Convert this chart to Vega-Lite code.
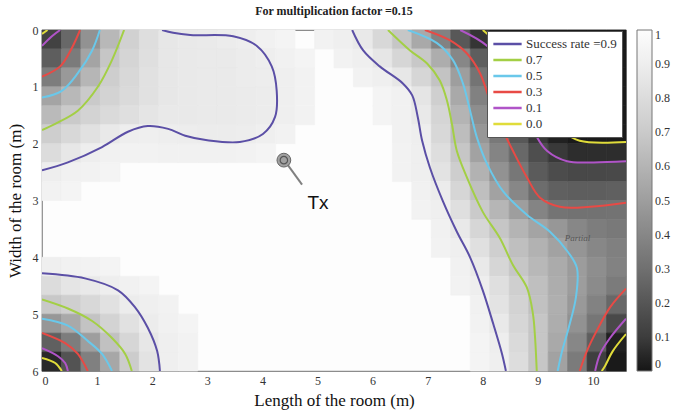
{
  "$schema": "https://vega.github.io/schema/vega-lite/v6.json",
  "width": 584,
  "height": 341,
  "autosize": "none",
  "padding": {"left": 42, "top": 30, "right": 62, "bottom": 43},
  "background": "white",
  "title": {"text": "For multiplication factor =0.15", "font": "Liberation Serif", "fontSize": 12, "fontWeight": "bold", "color": "#222", "anchor": "middle", "offset": 6},
  "config": {
    "font": "Liberation Serif",
    "view": {"stroke": "#8c8c8c", "strokeWidth": 1.2, "fill": "#fdfdfd"},
    "axis": {"labelFont": "Liberation Serif", "labelFontSize": 12, "labelColor": "#333", "titleFont": "Liberation Serif", "titleFontSize": 17, "titleFontWeight": "normal", "titleColor": "#111", "grid": false, "domain": false, "ticks": false, "labelPadding": 4}
  },
  "datasets": {
    "cells": [
      {"c":0,"r":0,"v":0.12},{"c":1,"r":0,"v":0.27},{"c":2,"r":0,"v":0.45},{"c":3,"r":0,"v":0.62},{"c":4,"r":0,"v":0.74},{"c":5,"r":0,"v":0.81},{"c":6,"r":0,"v":0.86},{"c":7,"r":0,"v":0.87},{"c":8,"r":0,"v":0.88},{"c":9,"r":0,"v":0.89},{"c":10,"r":0,"v":0.9},{"c":11,"r":0,"v":0.92},{"c":12,"r":0,"v":0.94},{"c":14,"r":0,"v":0.93},{"c":15,"r":0,"v":0.91},{"c":16,"r":0,"v":0.87},{"c":17,"r":0,"v":0.78},{"c":18,"r":0,"v":0.68},{"c":19,"r":0,"v":0.55},{"c":20,"r":0,"v":0.38},{"c":21,"r":0,"v":0.21},{"c":22,"r":0,"v":0.08},{"c":23,"r":0,"v":0.02},{"c":24,"r":0,"v":0.01},{"c":25,"r":0,"v":0.01},{"c":26,"r":0,"v":0.01},{"c":27,"r":0,"v":0.01},{"c":28,"r":0,"v":0.01},{"c":29,"r":0,"v":0.01},
      {"c":0,"r":1,"v":0.23},{"c":1,"r":1,"v":0.35},{"c":2,"r":1,"v":0.53},{"c":3,"r":1,"v":0.68},{"c":4,"r":1,"v":0.76},{"c":5,"r":1,"v":0.82},{"c":6,"r":1,"v":0.86},{"c":7,"r":1,"v":0.87},{"c":8,"r":1,"v":0.88},{"c":9,"r":1,"v":0.88},{"c":10,"r":1,"v":0.89},{"c":11,"r":1,"v":0.9},{"c":12,"r":1,"v":0.92},{"c":13,"r":1,"v":0.94},{"c":15,"r":1,"v":0.93},{"c":16,"r":1,"v":0.91},{"c":17,"r":1,"v":0.855},{"c":18,"r":1,"v":0.77},{"c":19,"r":1,"v":0.69},{"c":20,"r":1,"v":0.57},{"c":21,"r":1,"v":0.4},{"c":22,"r":1,"v":0.23},{"c":23,"r":1,"v":0.09},{"c":24,"r":1,"v":0.02},{"c":25,"r":1,"v":0.01},{"c":26,"r":1,"v":0.01},{"c":27,"r":1,"v":0.01},{"c":28,"r":1,"v":0.01},{"c":29,"r":1,"v":0.01},
      {"c":0,"r":2,"v":0.36},{"c":1,"r":2,"v":0.48},{"c":2,"r":2,"v":0.61},{"c":3,"r":2,"v":0.72},{"c":4,"r":2,"v":0.78},{"c":5,"r":2,"v":0.83},{"c":6,"r":2,"v":0.86},{"c":7,"r":2,"v":0.87},{"c":8,"r":2,"v":0.88},{"c":9,"r":2,"v":0.88},{"c":10,"r":2,"v":0.89},{"c":11,"r":2,"v":0.895},{"c":12,"r":2,"v":0.91},{"c":13,"r":2,"v":0.93},{"c":16,"r":2,"v":0.93},{"c":17,"r":2,"v":0.91},{"c":18,"r":2,"v":0.86},{"c":19,"r":2,"v":0.77},{"c":20,"r":2,"v":0.67},{"c":21,"r":2,"v":0.5},{"c":22,"r":2,"v":0.32},{"c":23,"r":2,"v":0.18},{"c":24,"r":2,"v":0.05},{"c":25,"r":2,"v":0.01},{"c":26,"r":2,"v":0.01},{"c":27,"r":2,"v":0.01},{"c":28,"r":2,"v":0.01},{"c":29,"r":2,"v":0.01},
      {"c":0,"r":3,"v":0.53},{"c":1,"r":3,"v":0.62},{"c":2,"r":3,"v":0.7},{"c":3,"r":3,"v":0.75},{"c":4,"r":3,"v":0.79},{"c":5,"r":3,"v":0.83},{"c":6,"r":3,"v":0.86},{"c":7,"r":3,"v":0.87},{"c":8,"r":3,"v":0.88},{"c":9,"r":3,"v":0.88},{"c":10,"r":3,"v":0.885},{"c":11,"r":3,"v":0.89},{"c":12,"r":3,"v":0.91},{"c":13,"r":3,"v":0.93},{"c":17,"r":3,"v":0.94},{"c":18,"r":3,"v":0.92},{"c":19,"r":3,"v":0.85},{"c":20,"r":3,"v":0.73},{"c":21,"r":3,"v":0.55},{"c":22,"r":3,"v":0.375},{"c":23,"r":3,"v":0.23},{"c":24,"r":3,"v":0.1},{"c":25,"r":3,"v":0.02},{"c":26,"r":3,"v":0.01},{"c":27,"r":3,"v":0.01},{"c":28,"r":3,"v":0.01},{"c":29,"r":3,"v":0.01},
      {"c":0,"r":4,"v":0.63},{"c":1,"r":4,"v":0.7},{"c":2,"r":4,"v":0.75},{"c":3,"r":4,"v":0.79},{"c":4,"r":4,"v":0.82},{"c":5,"r":4,"v":0.85},{"c":6,"r":4,"v":0.87},{"c":7,"r":4,"v":0.875},{"c":8,"r":4,"v":0.88},{"c":9,"r":4,"v":0.88},{"c":10,"r":4,"v":0.885},{"c":11,"r":4,"v":0.89},{"c":12,"r":4,"v":0.91},{"c":13,"r":4,"v":0.93},{"c":17,"r":4,"v":0.94},{"c":18,"r":4,"v":0.92},{"c":19,"r":4,"v":0.87},{"c":20,"r":4,"v":0.76},{"c":21,"r":4,"v":0.6},{"c":22,"r":4,"v":0.43},{"c":23,"r":4,"v":0.28},{"c":24,"r":4,"v":0.155},{"c":25,"r":4,"v":0.06},{"c":26,"r":4,"v":0.01},{"c":27,"r":4,"v":0.01},{"c":28,"r":4,"v":0.01},{"c":29,"r":4,"v":0.01},
      {"c":0,"r":5,"v":0.72},{"c":1,"r":5,"v":0.78},{"c":2,"r":5,"v":0.83},{"c":3,"r":5,"v":0.87},{"c":4,"r":5,"v":0.9},{"c":5,"r":5,"v":0.91},{"c":6,"r":5,"v":0.9},{"c":7,"r":5,"v":0.895},{"c":8,"r":5,"v":0.89},{"c":9,"r":5,"v":0.89},{"c":10,"r":5,"v":0.895},{"c":11,"r":5,"v":0.91},{"c":12,"r":5,"v":0.93},{"c":18,"r":5,"v":0.92},{"c":19,"r":5,"v":0.9},{"c":20,"r":5,"v":0.78},{"c":21,"r":5,"v":0.64},{"c":22,"r":5,"v":0.47},{"c":23,"r":5,"v":0.34},{"c":24,"r":5,"v":0.21},{"c":25,"r":5,"v":0.09},{"c":26,"r":5,"v":0.03},{"c":27,"r":5,"v":0.01},{"c":28,"r":5,"v":0.01},{"c":29,"r":5,"v":0.01},
      {"c":0,"r":6,"v":0.8},{"c":1,"r":6,"v":0.86},{"c":2,"r":6,"v":0.9},{"c":3,"r":6,"v":0.92},{"c":4,"r":6,"v":0.93},{"c":5,"r":6,"v":0.93},{"c":6,"r":6,"v":0.92},{"c":7,"r":6,"v":0.92},{"c":8,"r":6,"v":0.92},{"c":9,"r":6,"v":0.92},{"c":10,"r":6,"v":0.93},{"c":11,"r":6,"v":0.94},{"c":18,"r":6,"v":0.93},{"c":19,"r":6,"v":0.91},{"c":20,"r":6,"v":0.81},{"c":21,"r":6,"v":0.68},{"c":22,"r":6,"v":0.52},{"c":23,"r":6,"v":0.39},{"c":24,"r":6,"v":0.27},{"c":25,"r":6,"v":0.17},{"c":26,"r":6,"v":0.09},{"c":27,"r":6,"v":0.06},{"c":28,"r":6,"v":0.06},{"c":29,"r":6,"v":0.06},
      {"c":0,"r":7,"v":0.9},{"c":1,"r":7,"v":0.92},{"c":2,"r":7,"v":0.93},{"c":3,"r":7,"v":0.94},{"c":18,"r":7,"v":0.93},{"c":19,"r":7,"v":0.91},{"c":20,"r":7,"v":0.84},{"c":21,"r":7,"v":0.72},{"c":22,"r":7,"v":0.59},{"c":23,"r":7,"v":0.45},{"c":24,"r":7,"v":0.33},{"c":25,"r":7,"v":0.22},{"c":26,"r":7,"v":0.16},{"c":27,"r":7,"v":0.145},{"c":28,"r":7,"v":0.145},{"c":29,"r":7,"v":0.15},
      {"c":0,"r":8,"v":0.93},{"c":1,"r":8,"v":0.94},{"c":19,"r":8,"v":0.92},{"c":20,"r":8,"v":0.89},{"c":21,"r":8,"v":0.77},{"c":22,"r":8,"v":0.65},{"c":23,"r":8,"v":0.52},{"c":24,"r":8,"v":0.4},{"c":25,"r":8,"v":0.29},{"c":26,"r":8,"v":0.24},{"c":27,"r":8,"v":0.23},{"c":28,"r":8,"v":0.23},{"c":29,"r":8,"v":0.24},
      {"c":19,"r":9,"v":0.93},{"c":20,"r":9,"v":0.91},{"c":21,"r":9,"v":0.82},{"c":22,"r":9,"v":0.7},{"c":23,"r":9,"v":0.61},{"c":24,"r":9,"v":0.5},{"c":25,"r":9,"v":0.39},{"c":26,"r":9,"v":0.32},{"c":27,"r":9,"v":0.31},{"c":28,"r":9,"v":0.31},{"c":29,"r":9,"v":0.315},
      {"c":20,"r":10,"v":0.92},{"c":21,"r":10,"v":0.87},{"c":22,"r":10,"v":0.77},{"c":23,"r":10,"v":0.68},{"c":24,"r":10,"v":0.6},{"c":25,"r":10,"v":0.53},{"c":26,"r":10,"v":0.47},{"c":27,"r":10,"v":0.4},{"c":28,"r":10,"v":0.36},{"c":29,"r":10,"v":0.34},
      {"c":20,"r":11,"v":0.93},{"c":21,"r":11,"v":0.91},{"c":22,"r":11,"v":0.825},{"c":23,"r":11,"v":0.73},{"c":24,"r":11,"v":0.65},{"c":25,"r":11,"v":0.59},{"c":26,"r":11,"v":0.52},{"c":27,"r":11,"v":0.46},{"c":28,"r":11,"v":0.4},{"c":29,"r":11,"v":0.37},
      {"c":0,"r":12,"v":0.91},{"c":1,"r":12,"v":0.92},{"c":2,"r":12,"v":0.93},{"c":3,"r":12,"v":0.94},{"c":21,"r":12,"v":0.92},{"c":22,"r":12,"v":0.87},{"c":23,"r":12,"v":0.77},{"c":24,"r":12,"v":0.68},{"c":25,"r":12,"v":0.62},{"c":26,"r":12,"v":0.56},{"c":27,"r":12,"v":0.49},{"c":28,"r":12,"v":0.43},{"c":29,"r":12,"v":0.38},
      {"c":0,"r":13,"v":0.8},{"c":1,"r":13,"v":0.85},{"c":2,"r":13,"v":0.87},{"c":3,"r":13,"v":0.9},{"c":4,"r":13,"v":0.92},{"c":5,"r":13,"v":0.94},{"c":21,"r":13,"v":0.93},{"c":22,"r":13,"v":0.9},{"c":23,"r":13,"v":0.82},{"c":24,"r":13,"v":0.73},{"c":25,"r":13,"v":0.65},{"c":26,"r":13,"v":0.57},{"c":27,"r":13,"v":0.495},{"c":28,"r":13,"v":0.42},{"c":29,"r":13,"v":0.35},
      {"c":0,"r":14,"v":0.69},{"c":1,"r":14,"v":0.73},{"c":2,"r":14,"v":0.78},{"c":3,"r":14,"v":0.83},{"c":4,"r":14,"v":0.89},{"c":5,"r":14,"v":0.91},{"c":6,"r":14,"v":0.93},{"c":22,"r":14,"v":0.92},{"c":23,"r":14,"v":0.84},{"c":24,"r":14,"v":0.75},{"c":25,"r":14,"v":0.66},{"c":26,"r":14,"v":0.58},{"c":27,"r":14,"v":0.48},{"c":28,"r":14,"v":0.38},{"c":29,"r":14,"v":0.27},
      {"c":0,"r":15,"v":0.47},{"c":1,"r":15,"v":0.55},{"c":2,"r":15,"v":0.67},{"c":3,"r":15,"v":0.75},{"c":4,"r":15,"v":0.83},{"c":5,"r":15,"v":0.89},{"c":6,"r":15,"v":0.92},{"c":7,"r":15,"v":0.94},{"c":22,"r":15,"v":0.93},{"c":23,"r":15,"v":0.87},{"c":24,"r":15,"v":0.77},{"c":25,"r":15,"v":0.68},{"c":26,"r":15,"v":0.57},{"c":27,"r":15,"v":0.45},{"c":28,"r":15,"v":0.325},{"c":29,"r":15,"v":0.15},
      {"c":0,"r":16,"v":0.24},{"c":1,"r":16,"v":0.36},{"c":2,"r":16,"v":0.5},{"c":3,"r":16,"v":0.66},{"c":4,"r":16,"v":0.77},{"c":5,"r":16,"v":0.86},{"c":6,"r":16,"v":0.91},{"c":7,"r":16,"v":0.93},{"c":22,"r":16,"v":0.94},{"c":23,"r":16,"v":0.9},{"c":24,"r":16,"v":0.79},{"c":25,"r":16,"v":0.68},{"c":26,"r":16,"v":0.55},{"c":27,"r":16,"v":0.4},{"c":28,"r":16,"v":0.23},{"c":29,"r":16,"v":0.03},
      {"c":0,"r":17,"v":0.05},{"c":1,"r":17,"v":0.19},{"c":2,"r":17,"v":0.37},{"c":3,"r":17,"v":0.54},{"c":4,"r":17,"v":0.71},{"c":5,"r":17,"v":0.84},{"c":6,"r":17,"v":0.91},{"c":7,"r":17,"v":0.93},{"c":22,"r":17,"v":0.94},{"c":23,"r":17,"v":0.91},{"c":24,"r":17,"v":0.805},{"c":25,"r":17,"v":0.68},{"c":26,"r":17,"v":0.52},{"c":27,"r":17,"v":0.35},{"c":28,"r":17,"v":0.11},{"c":29,"r":17,"v":0.01}
    ],
    "contours": [
      {"lv":"0.9","s":"9a","x":0,"y":2.47},{"lv":"0.9","s":"9a","x":0.47,"y":2.33},{"lv":"0.9","s":"9a","x":1.09,"y":2.06},{"lv":"0.9","s":"9a","x":1.56,"y":1.79},{"lv":"0.9","s":"9a","x":1.92,"y":1.69},{"lv":"0.9","s":"9a","x":2.29,"y":1.74},{"lv":"0.9","s":"9a","x":2.6,"y":1.86},{"lv":"0.9","s":"9a","x":3.0,"y":1.94},{"lv":"0.9","s":"9a","x":3.59,"y":1.97},{"lv":"0.9","s":"9a","x":4.01,"y":1.83},{"lv":"0.9","s":"9a","x":4.23,"y":1.53},{"lv":"0.9","s":"9a","x":4.26,"y":1.07},{"lv":"0.9","s":"9a","x":4.17,"y":0.64},{"lv":"0.9","s":"9a","x":3.9,"y":0.28},{"lv":"0.9","s":"9a","x":3.47,"y":0.11},{"lv":"0.9","s":"9a","x":2.69,"y":0.09},{"lv":"0.9","s":"9a","x":2.38,"y":0.05},{"lv":"0.9","s":"9a","x":2.18,"y":0},
      {"lv":"0.9","s":"9b","x":0,"y":4.28},{"lv":"0.9","s":"9b","x":0.78,"y":4.37},{"lv":"0.9","s":"9b","x":1.38,"y":4.58},{"lv":"0.9","s":"9b","x":1.69,"y":4.88},{"lv":"0.9","s":"9b","x":1.92,"y":5.24},{"lv":"0.9","s":"9b","x":2.09,"y":5.65},{"lv":"0.9","s":"9b","x":2.14,"y":6},
      {"lv":"0.9","s":"9c","x":5.63,"y":0},{"lv":"0.9","s":"9c","x":5.83,"y":0.36},{"lv":"0.9","s":"9c","x":6.13,"y":0.64},{"lv":"0.9","s":"9c","x":6.55,"y":0.94},{"lv":"0.9","s":"9c","x":6.72,"y":1.15},{"lv":"0.9","s":"9c","x":6.82,"y":1.53},{"lv":"0.9","s":"9c","x":6.9,"y":1.95},{"lv":"0.9","s":"9c","x":7.04,"y":2.42},{"lv":"0.9","s":"9c","x":7.28,"y":3.02},{"lv":"0.9","s":"9c","x":7.53,"y":3.55},{"lv":"0.9","s":"9c","x":7.77,"y":4.0},{"lv":"0.9","s":"9c","x":8.0,"y":4.58},{"lv":"0.9","s":"9c","x":8.19,"y":5.17},{"lv":"0.9","s":"9c","x":8.35,"y":5.7},{"lv":"0.9","s":"9c","x":8.42,"y":6},
      {"lv":"0.7","s":"7a","x":1.49,"y":0},{"lv":"0.7","s":"7a","x":1.27,"y":0.53},{"lv":"0.7","s":"7a","x":1.02,"y":0.99},{"lv":"0.7","s":"7a","x":0.65,"y":1.42},{"lv":"0.7","s":"7a","x":0.24,"y":1.65},{"lv":"0.7","s":"7a","x":0,"y":1.76},
      {"lv":"0.7","s":"7b","x":0,"y":4.74},{"lv":"0.7","s":"7b","x":0.47,"y":4.9},{"lv":"0.7","s":"7b","x":0.91,"y":5.12},{"lv":"0.7","s":"7b","x":1.27,"y":5.42},{"lv":"0.7","s":"7b","x":1.51,"y":5.7},{"lv":"0.7","s":"7b","x":1.63,"y":6},
      {"lv":"0.7","s":"7c","x":6.28,"y":0},{"lv":"0.7","s":"7c","x":6.68,"y":0.36},{"lv":"0.7","s":"7c","x":6.99,"y":0.59},{"lv":"0.7","s":"7c","x":7.22,"y":0.89},{"lv":"0.7","s":"7c","x":7.35,"y":1.24},{"lv":"0.7","s":"7c","x":7.44,"y":1.65},{"lv":"0.7","s":"7c","x":7.53,"y":2.13},{"lv":"0.7","s":"7c","x":7.71,"y":2.59},{"lv":"0.7","s":"7c","x":8.0,"y":3.2},{"lv":"0.7","s":"7c","x":8.31,"y":3.66},{"lv":"0.7","s":"7c","x":8.55,"y":4.14},{"lv":"0.7","s":"7c","x":8.8,"y":4.53},{"lv":"0.7","s":"7c","x":8.91,"y":4.99},{"lv":"0.7","s":"7c","x":8.95,"y":5.42},{"lv":"0.7","s":"7c","x":8.98,"y":6},
      {"lv":"0.5","s":"5a","x":1.05,"y":0},{"lv":"0.5","s":"5a","x":0.91,"y":0.36},{"lv":"0.5","s":"5a","x":0.65,"y":0.76},{"lv":"0.5","s":"5a","x":0.36,"y":1.07},{"lv":"0.5","s":"5a","x":0,"y":1.19},
      {"lv":"0.5","s":"5b","x":0,"y":5.08},{"lv":"0.5","s":"5b","x":0.47,"y":5.2},{"lv":"0.5","s":"5b","x":0.83,"y":5.47},{"lv":"0.5","s":"5b","x":1.09,"y":5.7},{"lv":"0.5","s":"5b","x":1.27,"y":6},
      {"lv":"0.5","s":"5c","x":6.64,"y":0},{"lv":"0.5","s":"5c","x":7.17,"y":0.23},{"lv":"0.5","s":"5c","x":7.46,"y":0.53},{"lv":"0.5","s":"5c","x":7.64,"y":0.94},{"lv":"0.5","s":"5c","x":7.77,"y":1.42},{"lv":"0.5","s":"5c","x":7.89,"y":1.88},{"lv":"0.5","s":"5c","x":8.08,"y":2.36},{"lv":"0.5","s":"5c","x":8.37,"y":2.84},{"lv":"0.5","s":"5c","x":8.8,"y":3.25},{"lv":"0.5","s":"5c","x":9.22,"y":3.55},{"lv":"0.5","s":"5c","x":9.55,"y":3.91},{"lv":"0.5","s":"5c","x":9.71,"y":4.19},{"lv":"0.5","s":"5c","x":9.69,"y":4.71},{"lv":"0.5","s":"5c","x":9.56,"y":5.24},{"lv":"0.5","s":"5c","x":9.44,"y":5.65},{"lv":"0.5","s":"5c","x":9.36,"y":6},
      {"lv":"0.3","s":"3a","x":0.69,"y":0},{"lv":"0.3","s":"3a","x":0.54,"y":0.32},{"lv":"0.3","s":"3a","x":0.33,"y":0.64},{"lv":"0.3","s":"3a","x":0,"y":0.82},
      {"lv":"0.3","s":"3b","x":0,"y":5.33},{"lv":"0.3","s":"3b","x":0.42,"y":5.51},{"lv":"0.3","s":"3b","x":0.65,"y":5.7},{"lv":"0.3","s":"3b","x":0.83,"y":6},
      {"lv":"0.3","s":"3c","x":6.95,"y":0},{"lv":"0.3","s":"3c","x":7.4,"y":0.18},{"lv":"0.3","s":"3c","x":7.71,"y":0.41},{"lv":"0.3","s":"3c","x":7.95,"y":0.76},{"lv":"0.3","s":"3c","x":8.13,"y":1.24},{"lv":"0.3","s":"3c","x":8.31,"y":1.65},{"lv":"0.3","s":"3c","x":8.55,"y":2.13},{"lv":"0.3","s":"3c","x":8.8,"y":2.59},{"lv":"0.3","s":"3c","x":9.04,"y":2.95},{"lv":"0.3","s":"3c","x":9.4,"y":3.11},{"lv":"0.3","s":"3c","x":9.95,"y":3.11},{"lv":"0.3","s":"3c","x":10.6,"y":3.04},
      {"lv":"0.3","s":"3d","x":10.6,"y":4.55},{"lv":"0.3","s":"3d","x":10.31,"y":4.88},{"lv":"0.3","s":"3d","x":10.07,"y":5.29},{"lv":"0.3","s":"3d","x":9.89,"y":5.65},{"lv":"0.3","s":"3d","x":9.76,"y":6},
      {"lv":"0.1","s":"1a","x":0.33,"y":0},{"lv":"0.1","s":"1a","x":0.18,"y":0.11},{"lv":"0.1","s":"1a","x":0,"y":0.28},
      {"lv":"0.1","s":"1b","x":0,"y":5.6},{"lv":"0.1","s":"1b","x":0.29,"y":5.74},{"lv":"0.1","s":"1b","x":0.42,"y":5.86},{"lv":"0.1","s":"1b","x":0.47,"y":6},
      {"lv":"0.1","s":"1c","x":7.59,"y":0},{"lv":"0.1","s":"1c","x":8.08,"y":0.28},{"lv":"0.1","s":"1c","x":8.5,"y":0.8},{"lv":"0.1","s":"1c","x":8.77,"y":1.35},{"lv":"0.1","s":"1c","x":8.98,"y":1.88},{"lv":"0.1","s":"1c","x":9.17,"y":2.13},{"lv":"0.1","s":"1c","x":9.53,"y":2.31},{"lv":"0.1","s":"1c","x":10.0,"y":2.33},{"lv":"0.1","s":"1c","x":10.6,"y":2.31},
      {"lv":"0.1","s":"1d","x":10.6,"y":5.08},{"lv":"0.1","s":"1d","x":10.31,"y":5.42},{"lv":"0.1","s":"1d","x":10.13,"y":5.7},{"lv":"0.1","s":"1d","x":10.04,"y":6},
      {"lv":"0.0","s":"0a","x":0.1,"y":0},{"lv":"0.0","s":"0a","x":0,"y":0.07},
      {"lv":"0.0","s":"0b","x":0,"y":5.77},{"lv":"0.0","s":"0b","x":0.24,"y":5.86},{"lv":"0.0","s":"0b","x":0.36,"y":6},
      {"lv":"0.0","s":"0c","x":8.0,"y":0},{"lv":"0.0","s":"0c","x":8.45,"y":0.4},{"lv":"0.0","s":"0c","x":8.85,"y":0.9},{"lv":"0.0","s":"0c","x":9.2,"y":1.4},{"lv":"0.0","s":"0c","x":9.49,"y":1.8},{"lv":"0.0","s":"0c","x":9.76,"y":1.95},{"lv":"0.0","s":"0c","x":10.6,"y":1.97},
      {"lv":"0.0","s":"0d","x":10.6,"y":5.35},{"lv":"0.0","s":"0d","x":10.36,"y":5.65},{"lv":"0.0","s":"0d","x":10.22,"y":5.91},{"lv":"0.0","s":"0d","x":10.16,"y":6}
    ]
  },
  "layer": [
    {
      "data": {"name": "cells"},
      "mark": {"type": "rect", "strokeWidth": 0.7},
      "encoding": {
        "x": {"field": "c", "type": "ordinal", "scale": {"domain": [0,1,2,3,4,5,6,7,8,9,10,11,12,13,14,15,16,17,18,19,20,21,22,23,24,25,26,27,28,29], "paddingInner": 0, "paddingOuter": 0}, "axis": null},
        "y": {"field": "r", "type": "ordinal", "scale": {"domain": [0,1,2,3,4,5,6,7,8,9,10,11,12,13,14,15,16,17], "paddingInner": 0, "paddingOuter": 0}, "axis": null},
        "fill": {"field": "v", "type": "quantitative",
          "scale": {"domain": [0, 0.1, 0.3, 0.5, 0.7, 0.9, 1], "range": ["#161616", "#3d3d3d", "#707070", "#9e9e9e", "#cacaca", "#eeeeee", "#fdfdfd"]},
          "legend": {"orient": "none", "legendX": 595, "legendY": 0, "direction": "vertical", "gradientLength": 341, "gradientThickness": 15, "title": null, "values": [0, 0.1, 0.2, 0.3, 0.4, 0.5, 0.6, 0.7, 0.8, 0.9, 1], "format": ".2~f", "labelFont": "Liberation Serif", "labelFontSize": 12, "labelColor": "#333", "labelOffset": 3, "labelOverlap": false, "gradientStrokeColor": "#777", "gradientStrokeWidth": 1}},
        "stroke": {"field": "v", "type": "quantitative",
          "scale": {"domain": [0, 0.1, 0.3, 0.5, 0.7, 0.9, 1], "range": ["#161616", "#3d3d3d", "#707070", "#9e9e9e", "#cacaca", "#eeeeee", "#fdfdfd"]},
          "legend": null}
      }
    },
    {
      "encoding": {
        "x": {"field": "x", "type": "quantitative", "title": "Length of the room (m)", "scale": {"domain": [0, 10.6], "nice": false, "zero": false}, "axis": {"values": [0,1,2,3,4,5,6,7,8,9,10], "titlePadding": 6}},
        "y": {"field": "y", "type": "quantitative", "title": "Width of the room (m)", "scale": {"domain": [0, 6], "nice": false, "reverse": true}, "axis": {"values": [0,1,2,3,4,5,6], "titlePadding": 8}}
      },
      "layer": [
        {
          "data": {"name": "contours"},
          "mark": {"type": "line", "strokeWidth": 2, "interpolate": "catmull-rom", "clip": true},
          "encoding": {
            "stroke": {"field": "lv", "type": "nominal",
              "scale": {"domain": ["0.9", "0.7", "0.5", "0.3", "0.1", "0.0"], "range": ["#5b4fa6", "#a3cf45", "#6ac8ea", "#e84a45", "#b054c8", "#e0dc3a"]},
              "legend": {"orient": "none", "legendX": 445, "legendY": 1, "title": null, "symbolType": "stroke", "symbolSize": 800, "symbolStrokeWidth": 2.5, "clipHeight": 16, "rowPadding": 0, "labelFont": "Liberation Serif", "labelFontSize": 13, "labelColor": "#333", "labelOffset": 3, "fillColor": "white", "strokeColor": "#555", "padding": 5,
                "labelExpr": "datum.label == '0.9' ? 'Success rate =0.9' : datum.label"}},
            "detail": {"field": "s"},
            "order": {"value": null}
          }
        },
        {
          "data": {"values": [{"x": 4.45, "y": 2.36, "x2": 4.72, "y2": 2.72}]},
          "mark": {"type": "rule", "color": "#808080", "strokeWidth": 2},
          "encoding": {"x2": {"field": "x2"}, "y2": {"field": "y2"}}
        },
        {
          "data": {"values": [{"x": 4.39, "y": 2.29}]},
          "mark": {"type": "point", "shape": "circle", "filled": true, "size": 190, "color": "#a0a0a0", "stroke": "#666", "strokeWidth": 1, "opacity": 1},
          "encoding": {}
        },
        {
          "data": {"values": [{"x": 4.39, "y": 2.29}]},
          "mark": {"type": "point", "shape": "circle", "filled": false, "size": 55, "color": "#555", "strokeWidth": 1.2, "opacity": 1},
          "encoding": {}
        },
        {
          "data": {"values": [{"x": 5.01, "y": 3.05, "t": "Tx"}]},
          "mark": {"type": "text", "font": "Liberation Sans", "fontSize": 19, "color": "#111", "align": "center", "baseline": "middle"},
          "encoding": {"text": {"field": "t"}}
        },
        {
          "data": {"values": [{"x": 9.72, "y": 3.66, "t": "Partial"}]},
          "mark": {"type": "text", "font": "Liberation Serif", "fontSize": 9, "fontStyle": "italic", "color": "#555", "align": "center", "baseline": "middle"},
          "encoding": {"text": {"field": "t"}}
        }
      ]
    }
  ],
  "resolve": {"scale": {"x": "independent", "y": "independent", "stroke": "independent"}}
}
